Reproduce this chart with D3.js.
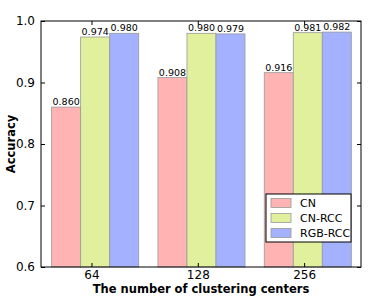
<!DOCTYPE html>
<html>
<head>
<meta charset="utf-8">
<script src="https://cdn.jsdelivr.net/npm/d3@7"></script>
<style>
  body { margin: 0; background: #fff; }
  text { font-family: "DejaVu Sans", sans-serif; }
</style>
</head>
<body>
<script>
const categories = ["64", "128", "256"];
const seriesNames = ["CN", "CN-RCC", "RGB-RCC"];
const cn     = [0.860, 0.908, 0.916];
const cnRcc  = [0.974, 0.980, 0.981];
const rgbRcc = [0.980, 0.979, 0.982];
const yTicks = [0.6, 0.7, 0.8, 0.9, 1.0];
const colors = ["#ffb3b3", "#e0f09c", "#a3b1fe"];

const series = [cn, cnRcc, rgbRcc];
const W = 382, H = 298;
const m = {left: 41, right: 21, top: 21, bottom: 31};
const barW = 0.273;

const svg = d3.select("body").append("svg")
    .attr("width", W).attr("height", H)
    .attr("viewBox", [0, 0, W, H]);

const x = d3.scaleLinear([-0.1, 2.91], [m.left, W - m.right]);
const y = d3.scaleLinear([0.6, 1.0], [H - m.bottom, m.top]);

// bars
series.forEach((vals, s) => {
  svg.append("g")
    .selectAll("rect")
    .data(vals)
    .join("rect")
      .attr("x", (d, i) => x(i + s * barW))
      .attr("width", x(barW) - x(0))
      .attr("y", d => y(d))
      .attr("height", d => y(0.6) - y(d))
      .attr("fill", colors[s])
      .attr("stroke", "#999")
      .attr("stroke-width", 0.8);

  svg.append("g")
    .selectAll("text")
    .data(vals)
    .join("text")
      .attr("x", (d, i) => x(i + s * barW + barW / 2))
      .attr("y", d => y(d) - 2)
      .attr("text-anchor", "middle")
      .attr("font-size", 9.5)
      .text(d => d3.format(".3f")(d));
});

// frame
svg.append("rect")
  .attr("x", m.left).attr("y", m.top)
  .attr("width", W - m.left - m.right)
  .attr("height", H - m.top - m.bottom)
  .attr("fill", "none").attr("stroke", "#000").attr("stroke-width", 1);

// y axis
const yAxis = svg.append("g")
  .attr("transform", `translate(${m.left},0)`)
  .call(d3.axisLeft(y).tickValues(yTicks).tickFormat(d3.format(".1f")).tickSize(-4).tickPadding(6));
yAxis.select(".domain").remove();
yAxis.selectAll("text").attr("font-size", 12).attr("font-family", "DejaVu Sans");
// right-side ticks
svg.append("g")
  .attr("transform", `translate(${W - m.right},0)`)
  .call(d3.axisRight(y).tickValues(yTicks).tickSize(-4).tickFormat(""))
  .select(".domain").remove();

// x axis
const tickPos = categories.map((c, i) => i + 0.375);
const xAxis = svg.append("g")
  .attr("transform", `translate(0,${H - m.bottom})`)
  .call(d3.axisBottom(x).tickValues(tickPos).tickFormat((d, i) => categories[i]).tickSize(-4).tickPadding(3));
xAxis.select(".domain").remove();
xAxis.selectAll("text").attr("font-size", 12).attr("font-family", "DejaVu Sans");
svg.append("g")
  .attr("transform", `translate(0,${m.top})`)
  .call(d3.axisTop(x).tickValues(tickPos).tickSize(-4).tickFormat(""))
  .select(".domain").remove();

// axis labels
svg.append("text")
  .attr("x", (m.left + W - m.right) / 2)
  .attr("y", 293)
  .attr("text-anchor", "middle")
  .attr("font-size", 11.5).attr("font-weight", "bold")
  .text("The number of clustering centers");

svg.append("text")
  .attr("transform", `translate(15,${(m.top + H - m.bottom) / 2}) rotate(-90)`)
  .attr("text-anchor", "middle")
  .attr("font-size", 11.5).attr("font-weight", "bold")
  .text("Accuracy");

// legend
const lg = svg.append("g").attr("transform", "translate(266,194)");
lg.append("rect")
  .attr("width", 85).attr("height", 48)
  .attr("fill", "#fff").attr("stroke", "#000").attr("stroke-width", 1);
seriesNames.forEach((name, i) => {
  const row = lg.append("g").attr("transform", `translate(0,${9 + i * 15})`);
  row.append("rect")
    .attr("x", 5).attr("y", -4.5).attr("width", 20).attr("height", 9)
    .attr("fill", colors[i]).attr("stroke", "#999").attr("stroke-width", 0.8);
  row.append("text")
    .attr("x", 34).attr("y", 4)
    .attr("font-size", 11)
    .text(name);
});
</script>
</body>
</html>
